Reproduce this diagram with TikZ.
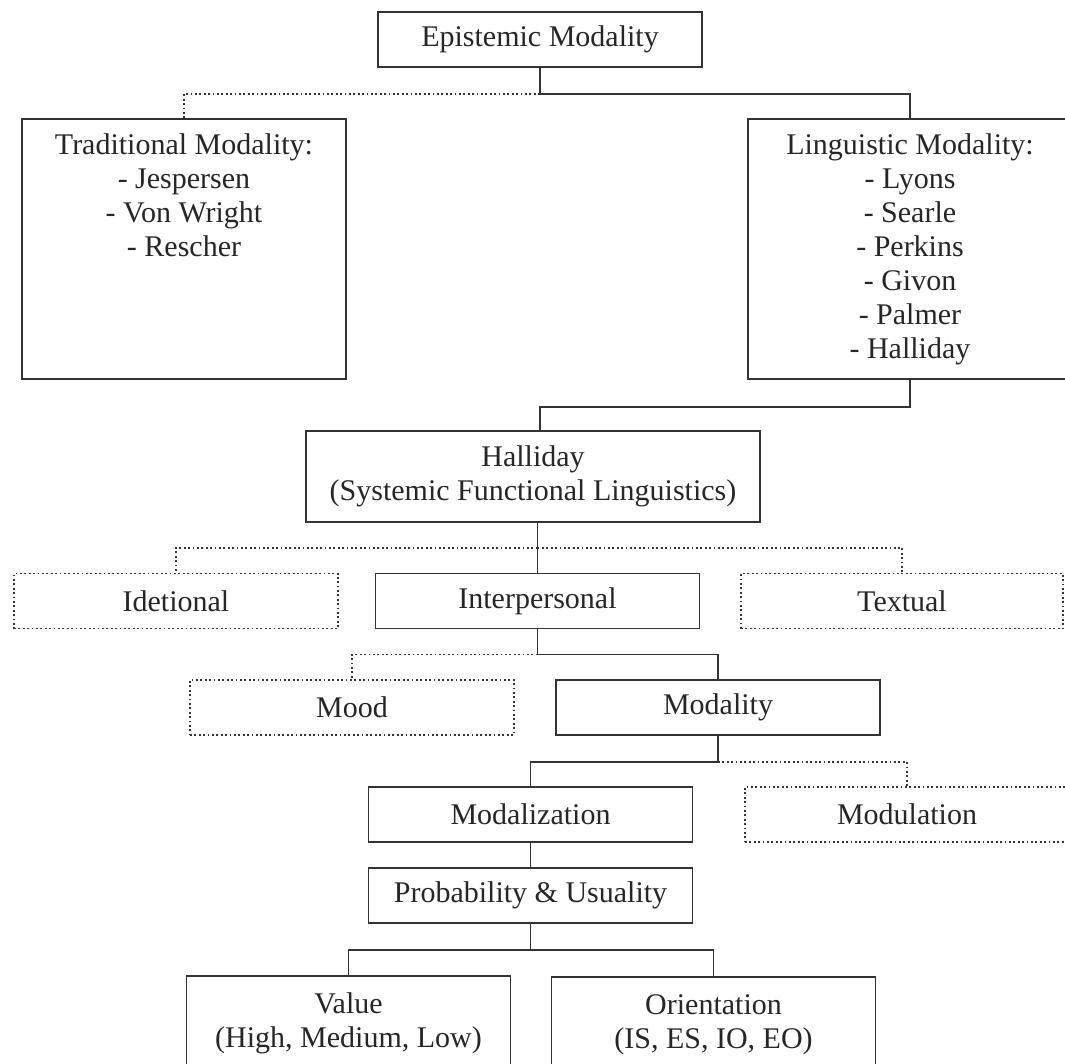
\documentclass[tikz,border=0pt]{standalone}
\usepackage{fontspec}
\setmainfont{Liberation Serif}
\tikzset{basic/.style={draw=black!80,line width=1.8pt,text=black!85,
                       inner sep=0pt,minimum height=55pt,align=center,
                       font=\fontsize{30}{34}\selectfont}}
\tikzset{solidbox/.style={basic,minimum width=324pt}}
\tikzset{dotbox/.style={basic,minimum width=324pt,dash pattern=on 1.8pt off 2.6pt}}
\tikzset{tallbox/.style={solidbox,anchor=north}}
\tikzset{link/.style={draw=black!80,line width=1.8pt}}
\tikzset{dotlink/.style={link,dash pattern=on 1.8pt off 2.6pt}}

\begin{document}
\begin{tikzpicture}[x=1pt,y=-1pt]
    \useasboundingbox (0,0) rectangle (1065,1063);
    % Boxes
    \node[solidbox] (epi) at (540,39.5) {Epistemic Modality};
    \node[tallbox,text height=138pt,text depth=122pt] (trad) at (184,118)
        {Traditional Modality:\\- Jespersen\\- Von Wright\\- Rescher};
    \node[tallbox,text height=240pt,text depth=20pt] (ling) at (910,118)
        {Linguistic Modality:\\- Lyons\\- Searle\\- Perkins\\- Givon\\- Palmer\\- Halliday};
    \node[basic,minimum width=454pt,minimum height=91pt] (hall) at (533,476.5)
        {Halliday\\(Systemic Functional Linguistics)};
    \node[dotbox] (idea) at (176,601) {Idetional};
    \node[solidbox] (inter) at (537.5,601) {Interpersonal};
    \node[dotbox,minimum width=322pt] (textual) at (902,601) {Textual};
    \node[dotbox] (mood) at (352,707.5) {Mood};
    \node[solidbox] (modal) at (718,707.5) {Modality};
    \node[solidbox] (mzn) at (530.5,814.5) {Modalization};
    \node[dotbox] (mdn) at (907,814.5) {Modulation};
    \node[solidbox] (prob) at (530.5,895.5) {Probability \& Usuality};
    \node[tallbox,text height=72pt,text depth=60pt] (val) at (348.5,975)
        {Value\\(High, Medium, Low)};
    \node[tallbox,text height=72pt,text depth=60pt] (ori) at (713.5,976)
        {Orientation\\(IS, ES, IO, EO)};
    % Connectors
    \foreach \a/\b/\d in {epi/ling/26,inter/modal/25,modal/mzn/26,prob/val/26,prob/ori/26}{%
          \draw[link] (\a.south) -- ++(0,\d) -| (\b.north);
        }
    \foreach \a/\b/\d in {epi/trad/26,inter/mood/25,modal/mdn/26}{%
          \draw[dotlink] (\a.south) ++(0,\d) -| (\b.north);
        }
    \draw[link] (ling.south) -- ++(0,27) -| ([xshift=7pt]hall.north);
    \draw[link] (inter.north) -- (inter.north |- hall.south);
    \draw[link] (mzn.south) -- (prob.north);
    \foreach \b in {idea,textual}{%
          \draw[dotlink] (inter.north) ++(0,-25) -| (\b.north);
        }
\end{tikzpicture}
\end{document}
